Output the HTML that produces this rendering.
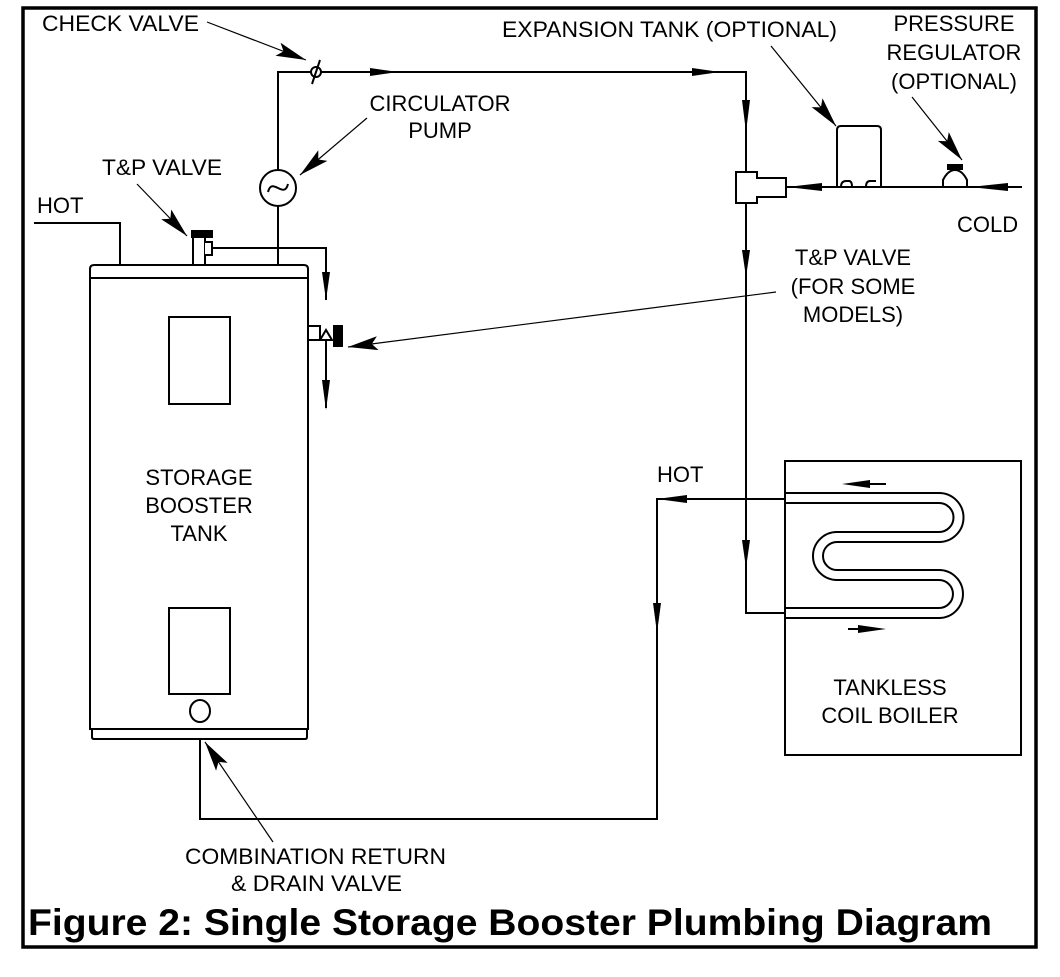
<!DOCTYPE html>
<html><head><meta charset="utf-8"><style>html,body{margin:0;padding:0;background:#fff}svg{display:block}</style></head>
<body>
<svg width="1060" height="977" viewBox="0 0 1060 977" xmlns="http://www.w3.org/2000/svg" font-family="Liberation Sans, Arial, sans-serif" fill="none" stroke="#000">
<defs>
<marker id="ah" viewBox="0 0 30 14" refX="30" refY="7" markerWidth="30" markerHeight="14" markerUnits="userSpaceOnUse" orient="auto"><path d="M0,0 L30,7 L0,14 L6,7 Z" fill="#000" stroke="none"/></marker>
</defs>
<rect x="23" y="8" width="1013" height="939" stroke-width="3.5"/>
<g stroke-width="2">
<polyline points="278,170 278,72 746,72 746,172"/>
<polyline points="278,206 278,265"/>
<circle cx="278" cy="188" r="18"/>
<path d="M268,192 C272,176 284,200 288,184"/>
<circle cx="316" cy="72" r="5" fill="#fff"/>
<line x1="312" y1="84" x2="320" y2="60"/>
<polyline points="34,223 120,223 120,265"/>
<rect x="193" y="237" width="12" height="28" fill="#fff"/>
<rect x="192" y="231" width="20" height="6" fill="#000"/>
<path d="M205,242 L212,242 L212,255 L205,255" fill="#fff"/>
<polyline points="212,248 326,248 326,300"/>
<path d="M90,278 L90,269 Q90,265 94,265 L304,265 Q308,265 308,269 L308,278 Z" fill="#fff"/>
<polyline points="90,278 90,729 308,729 308,278"/>
<path d="M92,729 L92,737 Q92,739 94,739 L305,739 Q307,739 307,737 L307,729"/>
<rect x="169" y="317" width="61" height="87"/>
<rect x="169" y="608" width="61" height="86"/>
<ellipse cx="200" cy="711" rx="10" ry="11"/>
<rect x="308" y="326" width="12" height="14" fill="#fff"/>
<path d="M320,340 L326,330 L332,340 Z" fill="#fff"/>
<rect x="334" y="326" width="8" height="20" fill="#000"/>
<line x1="326" y1="340" x2="326" y2="408"/>
<polyline points="200,739 200,819 657,819 657,499 785,499"/>
<polyline points="746,203 746,613 785,613"/>
<path d="M736,172 L757,172 L757,178 L786,178 L786,197 L757,197 L757,203 L736,203 Z" fill="#fff"/>
<line x1="786" y1="187" x2="1022" y2="187"/>
<path d="M837,187 L837,130 Q837,126 841,126 L877,126 Q881,126 881,130 L881,187" />
<path d="M841,187 Q841,181 846,181 L849,181 Q852,181 852,187 M866,187 Q866,181 870,181 L876,181" />
<path d="M943,187 L943,180 Q948,170 955,170 Q962,170 967,180 L967,187 Z" fill="#fff"/>
<rect x="948" y="165" width="14" height="4" fill="#000"/>
<rect x="785" y="461" width="236" height="294"/>
</g>
<path d="M785,498 L939,498 A19,19 0 0 1 939,537 L837,537 A19,19 0 0 0 837,575 L939,575 A19,19 0 0 1 939,613 L785,613" stroke-width="12"/>
<path d="M785,498 L939,498 A19,19 0 0 1 939,537 L837,537 A19,19 0 0 0 837,575 L939,575 A19,19 0 0 1 939,613 L785,613" stroke="#fff" stroke-width="8"/>
<line x1="785" y1="461" x2="785" y2="755" stroke-width="2"/>
<g stroke="none" fill="#000">
<path d="M370,68 L398,72 L370,76 Z"/>
<path d="M692,68 L720,72 L692,76 Z"/>
<path d="M742,100 L746,132 L750,100 Z"/>
<path d="M742,250 L746,277 L750,250 Z"/>
<path d="M742,540 L746,568 L750,540 Z"/>
<path d="M322,272 L326,300 L330,272 Z"/>
<path d="M322,380 L326,410 L330,380 Z"/>
<path d="M822,183 L787,187 L822,191 Z"/>
<path d="M1008,183 L970,187 L1008,191 Z"/>
<path d="M687,495 L657,499 L687,503 Z"/>
<path d="M653,603 L657,633 L661,603 Z"/>
<path d="M870,480 L842,484 L870,488 Z"/>
<path d="M858,625 L886,629 L858,633 Z"/>
</g>
<line x1="870" y1="484" x2="886" y2="484" stroke-width="2"/>
<line x1="848" y1="629" x2="860" y2="629" stroke-width="2"/>
<g stroke-width="1.2" marker-end="url(#ah)">
<line x1="207" y1="22" x2="306" y2="60"/>
<line x1="367" y1="118" x2="300" y2="175"/>
<line x1="137" y1="184" x2="187" y2="236"/>
<line x1="776" y1="292" x2="348" y2="347"/>
<line x1="771" y1="46" x2="836" y2="126"/>
<line x1="912" y1="97" x2="962" y2="160"/>
<line x1="273" y1="842" x2="205" y2="742"/>
</g>
<g fill="#000" stroke="none" font-size="22">
<text x="42" y="31" textLength="157" lengthAdjust="spacingAndGlyphs">CHECK VALVE</text>
<text x="440" y="111" text-anchor="middle">CIRCULATOR</text>
<text x="440" y="138" text-anchor="middle">PUMP</text>
<text x="102" y="175" textLength="120" lengthAdjust="spacingAndGlyphs">T&amp;P VALVE</text>
<text x="37" y="213">HOT</text>
<text x="502" y="37" textLength="335" lengthAdjust="spacingAndGlyphs">EXPANSION TANK (OPTIONAL)</text>
<text x="954" y="31" text-anchor="middle">PRESSURE</text>
<text x="954" y="60" text-anchor="middle">REGULATOR</text>
<text x="954" y="89" text-anchor="middle">(OPTIONAL)</text>
<text x="957" y="232">COLD</text>
<text x="853" y="265" text-anchor="middle">T&amp;P VALVE</text>
<text x="853" y="294" text-anchor="middle">(FOR SOME</text>
<text x="853" y="322" text-anchor="middle">MODELS)</text>
<text x="199" y="485" text-anchor="middle">STORAGE</text>
<text x="199" y="513" text-anchor="middle">BOOSTER</text>
<text x="199" y="541" text-anchor="middle">TANK</text>
<text x="657" y="482">HOT</text>
<text x="890" y="695" text-anchor="middle">TANKLESS</text>
<text x="890" y="723" text-anchor="middle">COIL BOILER</text>
<text x="185" y="864" textLength="261" lengthAdjust="spacingAndGlyphs">COMBINATION RETURN</text>
<text x="231" y="891" textLength="171" lengthAdjust="spacingAndGlyphs">&amp; DRAIN VALVE</text>
<text x="28" y="935" font-size="37" font-weight="bold" textLength="964" lengthAdjust="spacingAndGlyphs">Figure 2:  Single Storage Booster Plumbing Diagram</text>
</g>
</svg>
</body></html>
